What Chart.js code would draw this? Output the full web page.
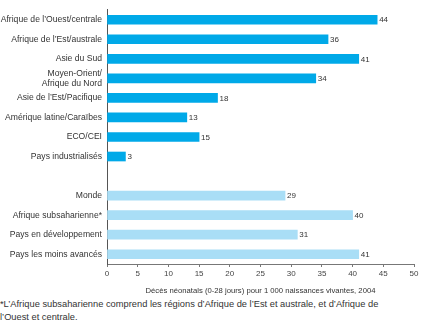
<!DOCTYPE html>
<html>
<head>
<meta charset="utf-8">
<script src="https://cdn.jsdelivr.net/npm/chart.js@4/dist/chart.umd.min.js"></script>
<style>
  html, body { margin: 0; padding: 0; background: #fff; }
  #wrap { position: relative; width: 435px; height: 324px; }
  #chart { position: absolute; left: 0; top: 0; }
  #note {
    position: absolute; left: 0; top: 298px; width: 435px;
    font-family: "Liberation Sans", Arial, sans-serif; font-size: 9.3px;
    line-height: 12.5px; color: #333; white-space: nowrap;
  }
</style>
</head>
<body>
<div id="wrap">
  <canvas id="chart" width="435" height="296"></canvas>
  <div id="note">*L’Afrique subsaharienne comprend les régions d’Afrique de l’Est et australe, et d’Afrique de<br>l’Ouest et centrale.</div>
</div>
<script>
// categories (one blank row separates the regional and the aggregate groups)
const categories = [
    'Afrique de l’Ouest/centrale',
    'Afrique de l’Est/australe',
    'Asie du Sud',
    ['Moyen-Orient/', 'Afrique du Nord'],
    'Asie de l’Est/Pacifique',
    'Amérique latine/Caraïbes',
    'ECO/CEI',
    'Pays industrialisés',
    '',
    'Monde',
    'Afrique subsaharienne*',
    'Pays en développement',
    'Pays les moins avancés'
];
const values = [44, 36, 41, 34, 18, 13, 15, 3, null, 29, 40, 31, 41];
const barColors = [
    '#00a9e8', '#00a9e8', '#00a9e8', '#00a9e8', '#00a9e8', '#00a9e8', '#00a9e8', '#00a9e8',
    '#ffffff',
    '#a9def6', '#a9def6', '#a9def6', '#a9def6'
];
const xTicks = [0, 5, 10, 15, 20, 25, 30, 35, 40, 45, 50];
const xTitle = 'Décès néonatals (0-28 jours) pour 1 000 naissances vivantes, 2004';

const FONT = '"Liberation Sans", Arial, sans-serif';

// value labels at the end of each bar
const valueLabels = {
    id: 'valueLabels',
    afterDatasetsDraw(chart) {
        const ctx = chart.ctx;
        const meta = chart.getDatasetMeta(0);
        ctx.save();
        ctx.font = '8px ' + FONT;
        ctx.fillStyle = '#333';
        ctx.textAlign = 'left';
        ctx.textBaseline = 'middle';
        meta.data.forEach((bar, i) => {
            if (values[i] == null) return;
            ctx.fillText(String(values[i]), bar.x + 2, bar.y + 0.5);
        });
        ctx.restore();
    }
};

new Chart(document.getElementById('chart'), {
    type: 'bar',
    data: {
        labels: categories,
        datasets: [{
            data: values,
            backgroundColor: barColors,
            barThickness: 9,
            borderWidth: 0
        }]
    },
    options: {
        indexAxis: 'y',
        responsive: false,
        animation: false,
        layout: { padding: { top: 2, right: 21, left: 0, bottom: 0 } },
        plugins: {
            legend: { display: false },
            tooltip: { enabled: false }
        },
        scales: {
            x: {
                min: 0,
                max: 50,
                afterBuildTicks: (scale) => { scale.ticks = xTicks.map(v => ({ value: v })); },
                afterFit: (scale) => { scale.height = 32; },
                grid: { drawOnChartArea: false, drawTicks: true, tickLength: 3, color: '#777' },
                border: { color: '#777', width: 1 },
                ticks: { font: { family: FONT, size: 8 }, color: '#444', padding: 2, maxRotation: 0 },
                title: {
                    display: true,
                    text: xTitle,
                    font: { family: FONT, size: 7.7 },
                    color: '#333',
                    padding: { top: 0, bottom: 0 }
                }
            },
            y: {
                afterFit: (scale) => { scale.width = 107; },
                grid: { display: false, drawTicks: false },
                border: { color: '#555', width: 1 },
                ticks: {
                    font: { family: FONT, size: 8.6, lineHeight: 1.15 },
                    color: '#333',
                    padding: 5,
                    autoSkip: false
                }
            }
        }
    },
    plugins: [valueLabels]
});
</script>
</body>
</html>
